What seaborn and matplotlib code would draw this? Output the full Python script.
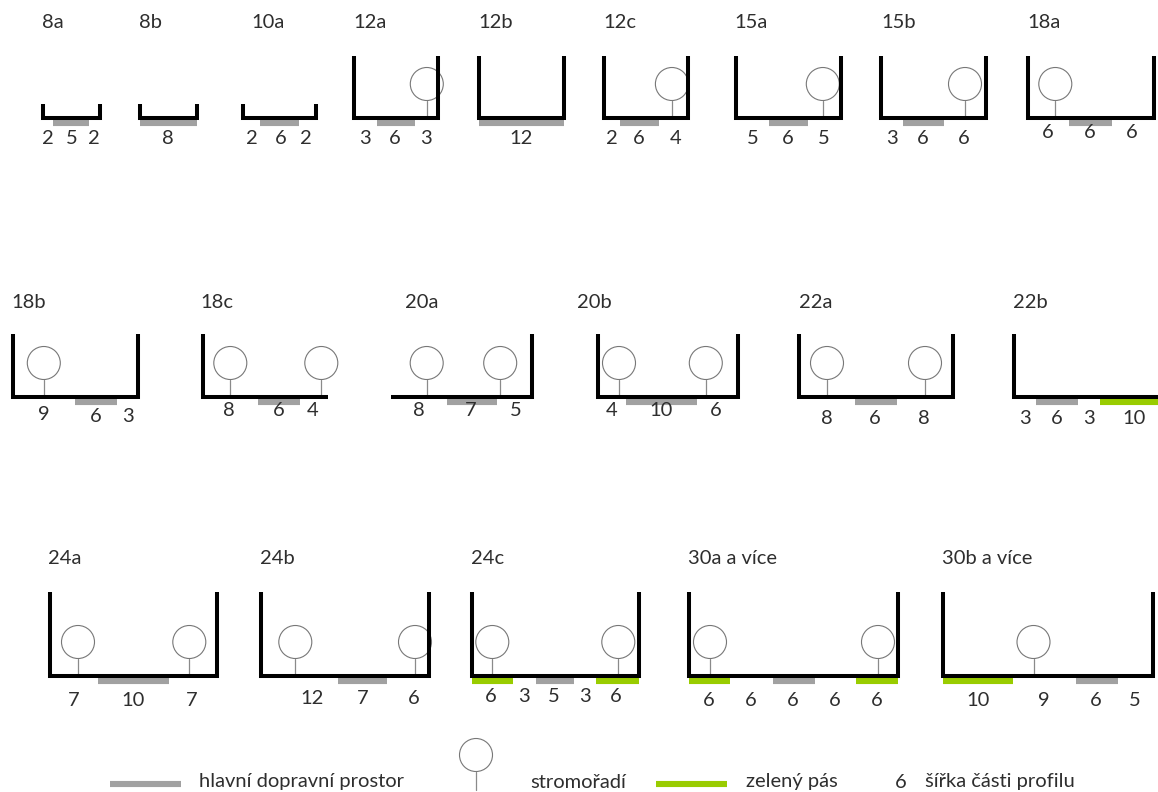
import matplotlib
matplotlib.use('Agg')
import matplotlib.pyplot as plt
import seaborn as sns
import pandas as pd

# values, all widths in metres measured from the left edge of the profile
names = ['8a', '8b', '10a', '12a', '12b', '12c', '15a', '15b', '18a',
         '18b', '18c', '20a', '20b', '22a', '22b',
         '24a', '24b', '24c', '30a a více', '30b a více']
total_width = [8.1, 8.1, 10.4, 12, 12.1, 12, 15, 15, 18,
               17.9, 17.9, 20.1, 20, 22, 20.6,
               23.9, 24, 23.9, 29.9, 30]
road_strip = [(1.4, 5.1), (0, 8.1), (2.4, 5.6), (3.3, 5.4), (0, 12.1), (2.3, 5.5), (4.7, 5.6), (3.1, 5.9), (5.9, 6.1),
              (8.9, 5.9), (7.9, 6), (8, 7.1), (4, 10.1), (8, 6), (3.1, 6),
              (6.9, 10.1), (11, 7), (9.1, 5.4), (12, 6), (19.1, 5.9)]
green_strips = {'22b': [(12.3, 8.3)],
                '24c': [(0, 5.9), (17.7, 6.2)],
                '30a a více': [(0, 5.9), (23.9, 6)],
                '30b a více': [(0, 10)]}
trees = [[], [], [], [10.4], [], [9.7], [12.4], [12], [3.9],
         [4.4], [3.9, 16.9], [5.1, 15.6], [3, 15.4], [4, 18], [],
         [4, 19.9], [4.9, 22], [2.9, 20.9], [3, 27], [13]]
part_labels = [['2', '5', '2'], ['8'], ['2', '6', '2'], ['3', '6', '3'], ['12'], ['2', '6', '4'],
               ['5', '6', '5'], ['3', '6', '6'], ['6', '6', '6'],
               ['9', '6', '3'], ['8', '6', '4'], ['8', '7', '5'], ['4', '10', '6'], ['8', '6', '8'],
               ['3', '6', '3', '10'],
               ['7', '10', '7'], ['12', '7', '6'], ['6', '3', '5', '3', '6'],
               ['6', '6', '6', '6', '6'], ['10', '9', '6', '5']]
legend_labels = ['hlavní dopravní prostor', 'stromořadí', 'zelený pás', '6', 'šířka části profilu']

# layout in pixels
PX_PER_M = 7
row = [0] * 9 + [1] * 6 + [2] * 5
ground_y = [118, 397, 676]
title_y = [22, 302, 559]
wall_h = [62, 63, 84]
left_x = [43, 140, 243, 354, 479, 604, 736, 881, 1028,
          13, 203, 391, 598, 799, 1014,
          50, 261, 472, 689, 942.5]
title_x = [42, 139, 251, 353, 478, 603, 734, 881, 1027,
           11, 200, 405, 577, 799, 1013,
           48, 260, 471, 688, 942]
low_walls = ['8a', '8b', '10a']
no_left_wall = ['20a']
no_right_wall = ['18c', '22b']
label_x = [[48, 72, 94], [168], [252, 281, 306], [365, 395, 426], [521], [612, 639, 676],
           [753, 788, 824], [892, 923, 964], [1048, 1090, 1132],
           [44, 96, 128], [229, 279, 313], [419, 471, 516], [612, 661, 716], [827, 875, 924],
           [1025, 1057, 1089, 1134],
           [74, 133, 192], [312, 363, 414], [491, 524, 554, 585, 616],
           [709, 751, 793, 835, 877], [978, 1044, 1096, 1135]]
label_y = [139, 139, 139, 139, 139, 139, 138, 138, 132,
           [414, 416, 417], 411, 411, 411, 419, 419,
           701, 699, 696, 701, 701]

sns.set_theme(style='white')
plt.rcParams['font.family'] = ['Lato', 'DejaVu Sans']
TEXT = '#2e2e2e'
FS = 14.5

outline, stems, crowns, strips = [], [], [], []
for i, name in enumerate(names):
    x0 = left_x[i]
    y = ground_y[row[i]]
    x1 = x0 + total_width[i] * PX_PER_M
    h = 14 if name in low_walls else wall_h[row[i]]
    if name not in no_left_wall:
        outline.append(dict(id=name, x=x0, y=y - h))
    outline.append(dict(id=name, x=x0, y=y))
    outline.append(dict(id=name, x=x1, y=y))
    if name not in no_right_wall:
        outline.append(dict(id=name, x=x1, y=y - h))

    for j, t in enumerate(trees[i]):
        tx = x0 + t * PX_PER_M
        crowns.append(dict(x=tx, y=y - 34))
        stems.append(dict(id=f'{name}{j}', x=tx, y=y - 17))
        stems.append(dict(id=f'{name}{j}', x=tx, y=y))

    s, w = road_strip[i]
    strips.append(dict(id=f'{name}r', kind='road', x=x0 + s * PX_PER_M, y=y + 5))
    strips.append(dict(id=f'{name}r', kind='road', x=x0 + (s + w) * PX_PER_M, y=y + 5))
    for j, (s, w) in enumerate(green_strips.get(name, [])):
        strips.append(dict(id=f'{name}g{j}', kind='green', x=x0 + s * PX_PER_M, y=y + 5))
        strips.append(dict(id=f'{name}g{j}', kind='green', x=x0 + (s + w) * PX_PER_M, y=y + 5))

# legend marks
strips += [dict(id='lr', kind='road', x=110, y=784), dict(id='lr', kind='road', x=181, y=784),
           dict(id='lg', kind='green', x=656, y=784), dict(id='lg', kind='green', x=727, y=784)]
crowns.append(dict(x=476, y=755))
stems += [dict(id='leg', x=476, y=772), dict(id='leg', x=476, y=790)]

fig = plt.figure(figsize=(11.58, 7.92), dpi=100)
ax = fig.add_axes([0, 0, 1, 1])

sns.lineplot(data=pd.DataFrame(stems), x='x', y='y', units='id', estimator=None, sort=False,
             color='#8a8a8a', lw=0.9, ax=ax, zorder=2)
sns.scatterplot(data=pd.DataFrame(crowns), x='x', y='y', s=(33 * 0.72) ** 2, facecolor='none',
                edgecolor='#777777', linewidth=0.8, ax=ax, zorder=2, legend=False)
sns.lineplot(data=pd.DataFrame(strips), x='x', y='y', units='id', hue='kind', estimator=None, sort=False,
             palette={'road': '#a1a1a1', 'green': '#99cc00'}, lw=4.4, ax=ax, legend=False,
             solid_capstyle='butt', zorder=3)
sns.lineplot(data=pd.DataFrame(outline), x='x', y='y', units='id', estimator=None, sort=False,
             color='black', lw=2.9, ax=ax, solid_joinstyle='miter', solid_capstyle='butt', zorder=4)

for i, name in enumerate(names):
    ax.text(title_x[i], title_y[row[i]], name, fontsize=FS, color=TEXT, ha='left', va='center')
    ly = label_y[i]
    for j, lab in enumerate(part_labels[i]):
        yy = ly[j] if isinstance(ly, list) else ly
        ax.text(label_x[i][j], yy, lab, fontsize=FS, color=TEXT, ha='center', va='center')

for lab, lx in zip(legend_labels, [199, 530, 746, 901, 925]):
    ax.text(lx, 782, lab, fontsize=FS, color=TEXT, ha='center' if lab == '6' else 'left', va='center')

ax.set_xlim(0, 1158)
ax.set_ylim(792, 0)
ax.axis('off')

fig.savefig('out.png', dpi=100)
plt.close(fig)
